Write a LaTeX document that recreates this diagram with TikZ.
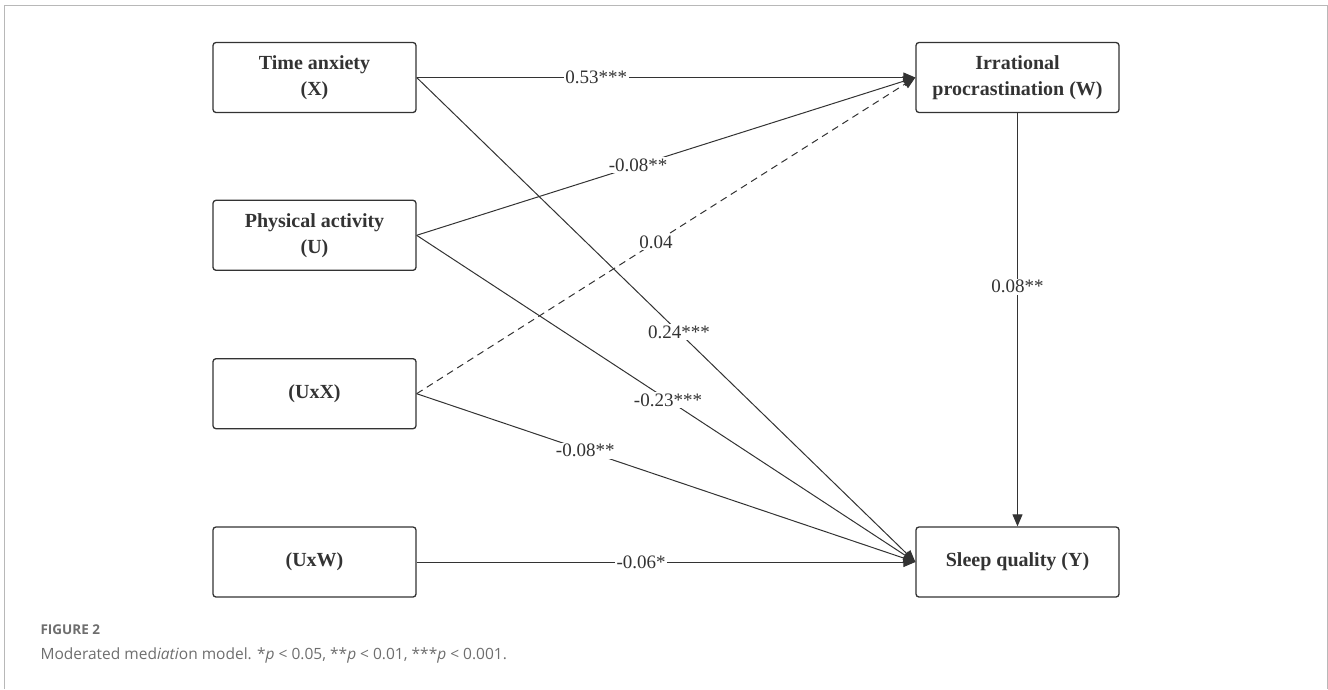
\documentclass[tikz,border=0pt]{standalone}
\usepackage{fontspec}
\setmainfont{Liberation Serif}
\newfontfamily\capfont{Open Sans}
\usetikzlibrary{arrows.meta}
\definecolor{ink}{HTML}{333333}
\definecolor{capgray}{HTML}{6E6E6E}

\begin{document}
\begin{tikzpicture}[x=1pt,y=-1pt,
    var/.style={draw=ink, line width=1.3pt, rounded corners=3pt, text=ink, align=center,
      minimum width=203pt, minimum height=70pt, inner sep=0pt,
      font=\fontsize{20}{26}\selectfont\bfseries},
    conn/.style={draw=ink, line width=1pt, -{Triangle[length=12pt,width=10pt]}},
    coef/.style={fill=white, text=ink, inner sep=1.5pt, font=\fontsize{19}{22}\selectfont}]
                \useasboundingbox (0,0) rectangle (1328,689);
                \draw [black!28, line width=1pt] (4.5,689) -- (4.5,5.5) -- (1327,5.5) -- (1327,689);

                \node (X) at (314.5,77.5) [var] {Time anxiety\\(X)};
                \node (U) at (314.5,235.3) [var] {Physical activity\\(U)};
                \node (UX) at (314.5,393.7) [var] {(UxX)};
                \node (UW) at (314.5,562) [var] {(UxW)};
                \node (W) at (1017.5,77.5) [var] {Irrational\\procrastination (W)};
                \node (Y) at (1017.5,562) [var] {Sleep quality (Y)};

                \draw [conn] (X.east) --node[coef,pos=.36] {0.53***} (W.west);
                \draw [conn] (X.east) --node[coef,pos=.526] {0.24***} (Y.west);
                \draw [conn] (U.east) --node[coef,pos=.444] {-0.08**} (W.west);
                \draw [conn] (U.east) --node[coef,pos=.504] {-0.23***} (Y.west);
                \draw [conn,dashed,dash pattern=on 7pt off 5pt] (UX.east) --node[coef,pos=.48] {0.04} (W.west);
                \draw [conn] (UX.east) --node[coef,pos=.338] {-0.08**} (Y.west);
                \draw [conn] (UW.east) --node[coef,pos=.45] {-0.06*} (Y.west);
                \draw [conn] (W.south) --node[coef,pos=.42] {0.08**} (Y.north);

                \node (fig) at (37,634) [anchor=base west, text=capgray, font=\capfont\fontsize{13.5}{16}\selectfont\bfseries] {FIGURE 2};
                \node (cap) at (37,659) [anchor=base west, text=capgray, font=\capfont\fontsize{15.5}{18}\selectfont] {Moderated med\textit{iati}on model. *\textit{p} < 0.05, **\textit{p} < 0.01, ***\textit{p} < 0.001.};
\end{tikzpicture}
\end{document}
